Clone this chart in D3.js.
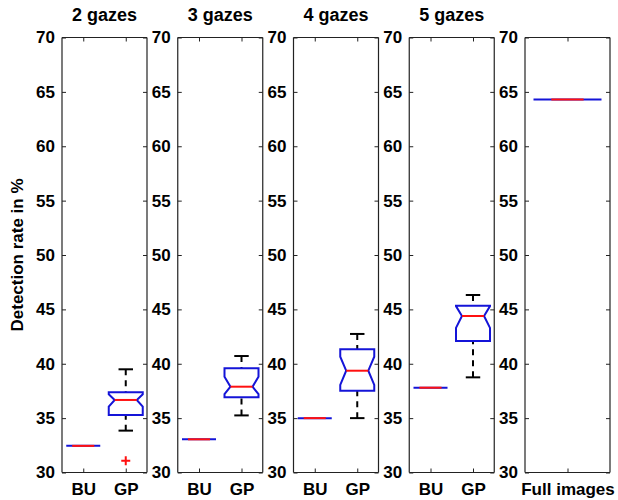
<!DOCTYPE html>
<html>
<head>
<meta charset="utf-8">
<script src="https://cdn.jsdelivr.net/npm/d3@7"></script>
<style>
html,body{margin:0;padding:0;background:#fff;}
svg{display:block;}
text{font-family:"Liberation Sans",Arial,Helvetica,sans-serif;font-weight:bold;fill:#000;}
</style>
</head>
<body>
<svg id="chart" width="618" height="500"></svg>
<script>
// ---- data ----
const panelTitles = ["2 gazes", "3 gazes", "4 gazes", "5 gazes", ""];
const panelCategories = [["BU", "GP"], ["BU", "GP"], ["BU", "GP"], ["BU", "GP"], ["Full images"]];
const buValues = [32.45, 33.05, 35.0, 37.8];
const fullImagesValue = 64.3;
const gpWhiskerLow  = [33.85, 35.25, 35.0, 38.75];
const gpQ1          = [35.29, 36.91, 37.52, 42.09];
const gpNotchLow    = [36.05, 37.2, 38.05, 43.3];
const gpMedian      = [36.67, 37.89, 39.36, 44.39];
const gpNotchHigh   = [37.19, 38.8, 40.65, 45.3];
const gpQ3          = [37.37, 39.58, 41.33, 45.34];
const gpWhiskerHigh = [39.49, 40.71, 42.74, 46.32];
const gpOutliers    = [[31.09], [], [], []];
const yTicks = [30, 35, 40, 45, 50, 55, 60, 65, 70];
const yLabel = "Detection rate in %";

// ---- layout ----
const svg = d3.select("#chart");
const panelLeft0 = 62, panelStep = 115.75, panelW = 85;
const plotTop = 37.5, plotBottom = 472.5;
const y = d3.scaleLinear().domain([30, 70]).range([plotBottom, plotTop]);
const blue = "#1414d8", red = "#ff1010";
const boxHalf = 0.4, notchHalf = 0.26, capHalf = 0.17;

function boxStats(i, j) {
  if (i === 4) {
    const v = fullImagesValue;
    return {lo: v, q1: v, nl: v, med: v, nh: v, q3: v, hi: v, out: [], nhw: 0.19};
  }
  if (j === 0) {
    const v = buValues[i];
    return {lo: v, q1: v, nl: v, med: v, nh: v, q3: v, hi: v, out: [], nhw: notchHalf};
  }
  return {lo: gpWhiskerLow[i], q1: gpQ1[i], nl: gpNotchLow[i], med: gpMedian[i],
          nh: gpNotchHigh[i], q3: gpQ3[i], hi: gpWhiskerHigh[i], out: gpOutliers[i], nhw: notchHalf};
}

panelTitles.forEach((title, i) => {
  const cats = panelCategories[i];
  const left = panelLeft0 + i * panelStep;
  const x = d3.scaleLinear().domain([0.5, cats.length + 0.5]).range([left, left + panelW]);
  const g = svg.append("g");

  if (title) {
    g.append("text").attr("x", left + panelW / 2).attr("y", 21)
      .attr("text-anchor", "middle").style("font-size", "18px").text(title);
  }

  const yAxisL = d3.axisLeft(y).tickValues(yTicks).tickSize(-4).tickPadding(7).tickFormat(d3.format("d"));
  const gl = g.append("g").attr("transform", `translate(${left},0)`).call(yAxisL);
  const yAxisR = d3.axisRight(y).tickValues(yTicks).tickSize(-4).tickFormat("");
  const gr = g.append("g").attr("transform", `translate(${left + panelW},0)`).call(yAxisR);
  const ticksX = d3.range(1, cats.length + 1);
  const xAxisB = d3.axisBottom(x).tickValues(ticksX).tickSize(-4).tickPadding(10).tickFormat((d) => cats[d - 1]);
  const gb = g.append("g").attr("transform", `translate(0,${plotBottom})`).call(xAxisB);
  const xAxisT = d3.axisTop(x).tickValues(ticksX).tickSize(-4).tickFormat("");
  const gt = g.append("g").attr("transform", `translate(0,${plotTop})`).call(xAxisT);
  [gl, gr, gb, gt].forEach(a => {
    a.selectAll(".domain").attr("stroke", "#222").attr("stroke-width", 1.2);
    a.selectAll(".tick line").attr("stroke", "#222").attr("stroke-width", 1);
    a.selectAll("text").style("font-size", "17px").style("font-family", "'Liberation Sans', Arial, sans-serif").style("font-weight", "bold").attr("fill", "#000");
  });
  gl.selectAll(".domain").attr("d", `M0,${plotBottom}V${plotTop}`);
  gr.selectAll(".domain").attr("d", `M0,${plotBottom}V${plotTop}`);
  gb.selectAll(".domain").attr("d", `M${left},0H${left + panelW}`);
  gt.selectAll(".domain").attr("d", `M${left},0H${left + panelW}`);

  cats.forEach((c, j) => {
    const s = boxStats(i, j);
    const cx = j + 1;
    const bg = g.append("g");
    if (s.hi > s.q3) {
      bg.append("line").attr("x1", x(cx)).attr("x2", x(cx)).attr("y1", y(s.hi)).attr("y2", y(s.q3))
        .attr("stroke", "#000").attr("stroke-width", 2).attr("stroke-dasharray", "6,5");
      bg.append("line").attr("x1", x(cx - capHalf)).attr("x2", x(cx + capHalf)).attr("y1", y(s.hi)).attr("y2", y(s.hi))
        .attr("stroke", "#000").attr("stroke-width", 2);
    }
    if (s.lo < s.q1) {
      bg.append("line").attr("x1", x(cx)).attr("x2", x(cx)).attr("y1", y(s.lo)).attr("y2", y(s.q1))
        .attr("stroke", "#000").attr("stroke-width", 2).attr("stroke-dasharray", "6,5");
      bg.append("line").attr("x1", x(cx - capHalf)).attr("x2", x(cx + capHalf)).attr("y1", y(s.lo)).attr("y2", y(s.lo))
        .attr("stroke", "#000").attr("stroke-width", 2);
    }
    const pts = [
      [cx - boxHalf, s.q3], [cx + boxHalf, s.q3], [cx + boxHalf, s.nh], [cx + s.nhw, s.med],
      [cx + boxHalf, s.nl], [cx + boxHalf, s.q1], [cx - boxHalf, s.q1], [cx - boxHalf, s.nl],
      [cx - s.nhw, s.med], [cx - boxHalf, s.nh]
    ];
    const line = d3.line().x(d => x(d[0])).y(d => y(d[1])).curve(d3.curveLinearClosed);
    bg.append("path").attr("d", line(pts)).attr("fill", "none").attr("stroke", blue).attr("stroke-width", 2);
    bg.append("line").attr("x1", x(cx - s.nhw)).attr("x2", x(cx + s.nhw)).attr("y1", y(s.med)).attr("y2", y(s.med))
      .attr("stroke", red).attr("stroke-width", 2);
    s.out.forEach(o => {
      const ox = x(cx), oy = y(o);
      bg.append("path").attr("d", `M${ox - 4.5},${oy}H${ox + 4.5}M${ox},${oy - 4.5}V${oy + 4.5}`)
        .attr("stroke", red).attr("stroke-width", 2);
    });
  });
});

svg.append("text").attr("transform", `translate(23,${(plotTop + plotBottom) / 2}) rotate(-90)`)
  .attr("text-anchor", "middle").style("font-size", "17px").text(yLabel);
</script>
</body>
</html>
